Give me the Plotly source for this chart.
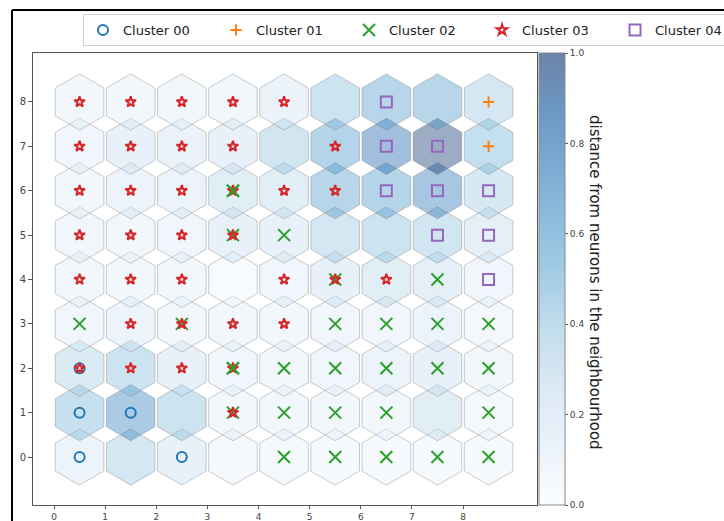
import numpy as np
import plotly.graph_objects as go
from plotly.colors import sample_colorscale, unlabel_rgb

FIG_W, FIG_H = 724, 521

# ---- data -------------------------------------------------------------
n_cols = 9
n_rows = 9
x_tick_labels = [str(k) for k in range(n_cols)]
y_tick_labels = [str(k) for k in range(n_rows)]

# distance map of the SOM neurons, row 0 (bottom) to row 8 (top)
umatrix = [
    [0.20, 0.40, 0.25, 0.08, 0.08, 0.06, 0.06, 0.06, 0.06],
    [0.48, 0.70, 0.45, 0.12, 0.12, 0.12, 0.12, 0.30, 0.10],
    [0.35, 0.45, 0.25, 0.15, 0.12, 0.15, 0.20, 0.25, 0.12],
    [0.15, 0.20, 0.12, 0.12, 0.12, 0.15, 0.15, 0.20, 0.10],
    [0.12, 0.12, 0.12, 0.05, 0.15, 0.25, 0.30, 0.28, 0.15],
    [0.15, 0.12, 0.15, 0.25, 0.25, 0.40, 0.45, 0.42, 0.28],
    [0.12, 0.20, 0.20, 0.30, 0.30, 0.60, 0.62, 0.75, 0.38],
    [0.15, 0.25, 0.22, 0.25, 0.42, 0.62, 0.82, 1.00, 0.50],
    [0.12, 0.12, 0.12, 0.12, 0.22, 0.45, 0.60, 0.60, 0.40],
]

cluster_names = ["Cluster 00", "Cluster 01", "Cluster 02", "Cluster 03", "Cluster 04"]

# winning neurons (row, col) of the samples in each cluster
cluster_cells = [
    [(0, 0), (0, 2), (1, 0), (1, 1), (2, 0)],
    [(8, 8), (7, 8)],
    [(6, 3), (5, 3), (5, 4), (4, 5), (4, 7),
     (3, 0), (3, 2), (3, 5), (3, 6), (3, 7), (3, 8),
     (2, 3), (2, 4), (2, 5), (2, 6), (2, 7), (2, 8),
     (1, 3), (1, 4), (1, 5), (1, 6), (1, 8),
     (0, 4), (0, 5), (0, 6), (0, 7), (0, 8)],
    [(8, 0), (8, 1), (8, 2), (8, 3), (8, 4),
     (7, 0), (7, 1), (7, 2), (7, 3), (7, 5),
     (6, 0), (6, 1), (6, 2), (6, 3), (6, 4), (6, 5),
     (5, 0), (5, 1), (5, 2), (5, 3),
     (4, 0), (4, 1), (4, 2), (4, 4), (4, 5), (4, 6),
     (3, 1), (3, 2), (3, 3), (3, 4),
     (2, 0), (2, 1), (2, 2), (2, 3),
     (1, 3)],
    [(8, 6), (7, 6), (7, 7), (6, 6), (6, 7), (6, 8), (5, 7), (5, 8), (4, 8)],
]
# cells where a cluster 02 sample was plotted after the cluster 03 one
cluster02_last = [(6, 3), (2, 3)]

# ---- styling ----------------------------------------------------------
FONT = "DejaVu Sans"
symbols = ["circle-open", "cross-thin-open", "x-thin-open", "star-open", "square-open"]
sizes = [10, 8, 12, 8, 11]
colors = ["#1f77b4", "#ff7f0e", "#2ca02c", "#d62728", "#9467bd"]
ALPHA = 0.4
CB_ALPHA = 0.6
R = 0.95 / np.sqrt(3)
ROW_H = np.sqrt(3) / 2


def cell_xy(r, c):
    return c + 0.5, r * ROW_H


def blend(rgb_str, a):
    r, g, b = unlabel_rgb(rgb_str)
    return "rgb({:.0f},{:.0f},{:.0f})".format(*(a * v + (1 - a) * 255 for v in (r, g, b)))


fig = go.Figure()

# hexagonal cells
angles = np.deg2rad([90, 150, 210, 270, 330, 30, 90])
for r in range(n_rows):
    for c in range(n_cols):
        cx, cy = cell_xy(r, c)
        rr, gg, bb = unlabel_rgb(sample_colorscale("Blues", [umatrix[r][c]])[0])
        fig.add_trace(go.Scatter(
            x=cx + R * np.cos(angles), y=cy + R * np.sin(angles),
            mode="lines", fill="toself",
            fillcolor=f"rgba({rr:.0f},{gg:.0f},{bb:.0f},{ALPHA})",
            line=dict(color=f"rgba(128,128,128,{ALPHA})", width=1),
            showlegend=False, hoverinfo="skip",
        ))


def add_markers(cells, k, show):
    xs = [cell_xy(r, c)[0] for r, c in cells]
    ys = [cell_xy(r, c)[1] for r, c in cells]
    fig.add_trace(go.Scatter(
        x=xs, y=ys, mode="markers", name=cluster_names[k],
        showlegend=show, legendgroup=cluster_names[k],
        marker=dict(symbol=symbols[k], size=sizes[k], color=colors[k],
                    line=dict(color=colors[k], width=2)),
    ))


for k, cells in enumerate(cluster_cells):
    add_markers(cells, k, True)
add_markers(cluster02_last, 2, False)

# colour bar for the distance map
cb_scale = [[i / 8, blend(c, CB_ALPHA)]
            for i, c in enumerate(sample_colorscale("Blues", list(np.linspace(0, 1, 9))))]
fig.add_trace(go.Scatter(
    x=[None], y=[None], mode="markers", showlegend=False, hoverinfo="skip",
    marker=dict(color=[0, 1], cmin=0, cmax=1, colorscale=cb_scale, showscale=True,
                colorbar=dict(
                    x=539 / FIG_W, xanchor="left", xpad=0,
                    y=1 - 53 / FIG_H, yanchor="top", ypad=0,
                    len=452 / FIG_H, lenmode="fraction", thickness=26,
                    outlinewidth=1, outlinecolor="#888",
                    tickmode="linear", tick0=0, dtick=0.2, tickformat=".1f",
                    ticks="outside", ticklen=3, tickcolor="#555",
                    tickfont=dict(family=FONT, size=9, color="#444"),
                )),
))

fig.add_annotation(
    text="distance from neurons in the neighbourhood",
    x=595 / FIG_W, y=1 - 282 / FIG_H, xref="paper", yref="paper",
    xanchor="center", yanchor="middle",
    textangle=90, showarrow=False,
    font=dict(family=FONT, size=15, color="#222"),
)

# frame lines
fig.add_shape(type="line", xref="paper", yref="paper",
              x0=12 / FIG_W, x1=1, y0=1 - 10 / FIG_H, y1=1 - 10 / FIG_H,
              line=dict(color="black", width=2))
fig.add_shape(type="line", xref="paper", yref="paper",
              x0=12 / FIG_W, x1=12 / FIG_W, y0=0, y1=1 - 10 / FIG_H,
              line=dict(color="black", width=2))

axis_common = dict(
    showgrid=False, zeroline=False, showline=True, mirror=True,
    linecolor="#555", linewidth=1, ticks="outside", tickcolor="#555",
)
fig.update_layout(
    width=FIG_W, height=FIG_H,
    margin=dict(l=0, r=0, t=0, b=0, autoexpand=False),
    paper_bgcolor="white", plot_bgcolor="white",
    xaxis=dict(domain=[33 / FIG_W, 537 / FIG_W], range=[-0.411, 9.447],
               tickvals=list(range(n_cols)), ticktext=x_tick_labels,
               ticklen=3, tickfont=dict(family=FONT, size=9, color="#444"),
               **axis_common),
    yaxis=dict(domain=[1 - 505 / FIG_H, 1 - 52.5 / FIG_H], range=[-0.936, 7.894],
               tickvals=[k * ROW_H for k in range(n_rows)], ticktext=y_tick_labels,
               ticklen=4, tickfont=dict(family=FONT, size=10, color="#444"),
               **axis_common),
    legend=dict(
        orientation="h", x=83 / FIG_W, xanchor="left", y=1 - 14 / FIG_H, yanchor="top",
        bgcolor="white", bordercolor="#d0d0d0", borderwidth=1,
        entrywidth=88, entrywidthmode="pixels",
        font=dict(family=FONT, size=13, color="#222"),
    ),
)

fig.write_html("out.html")
